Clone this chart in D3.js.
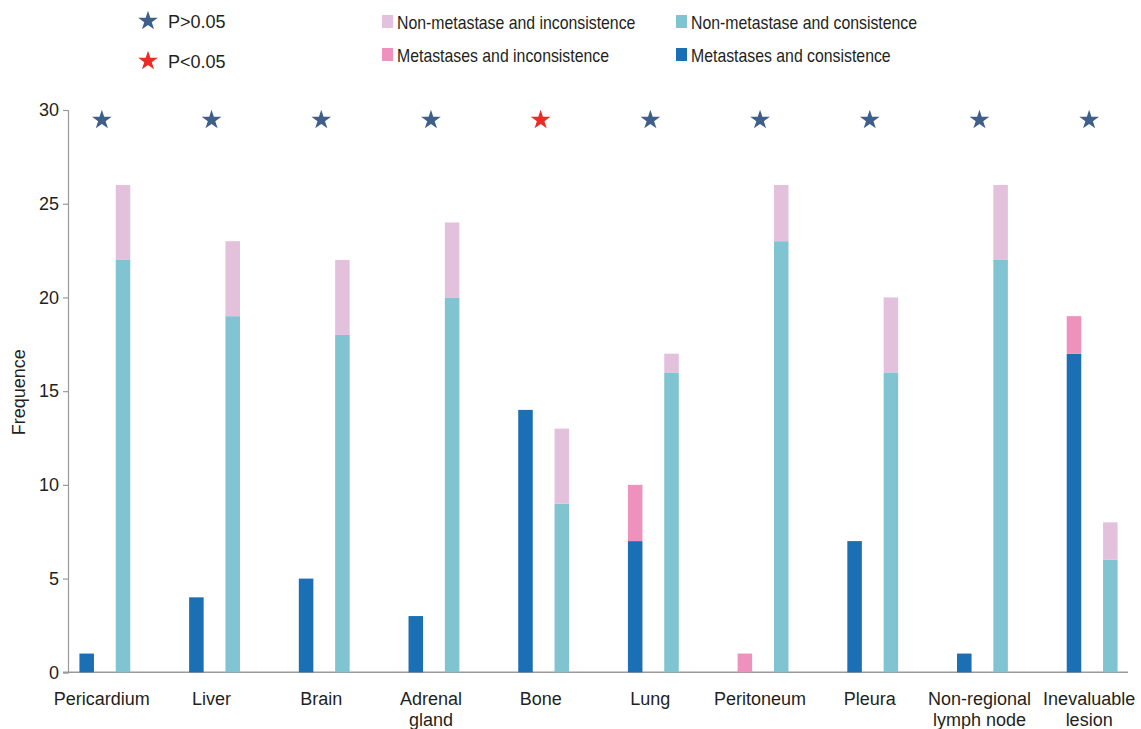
<!DOCTYPE html>
<html>
<head>
<meta charset="utf-8">
<script src="https://cdn.jsdelivr.net/npm/d3@7/dist/d3.min.js"></script>
<style>
  html, body { margin: 0; padding: 0; background: #fff; }
  svg { display: block; font-family: "Liberation Sans", Arial, Helvetica, sans-serif; }
</style>
</head>
<body>
<svg id="chart" width="1141" height="729"></svg>
<script>
// Metastatic sites
const sites = ["Pericardium", "Liver", "Brain", "Adrenal gland", "Bone",
               "Lung", "Peritoneum", "Pleura", "Non-regional lymph node", "Inevaluable lesion"];
// Axis label lines for each site
const siteLabels = [["Pericardium"], ["Liver"], ["Brain"], ["Adrenal", "gland"], ["Bone"],
                    ["Lung"], ["Peritoneum"], ["Pleura"], ["Non-regional", "lymph node"], ["Inevaluable", "lesion"]];

// Counts per site
const metConsistent     = [1, 4, 5, 3, 14, 7, 0, 7, 1, 17];
const metInconsistent   = [0, 0, 0, 0, 0, 3, 1, 0, 0, 2];
const nonConsistent     = [22, 19, 18, 20, 9, 16, 23, 16, 22, 6];
const nonInconsistent   = [4, 4, 4, 4, 4, 1, 3, 4, 4, 2];

// Significance per site
const significant = [false, false, false, false, true, false, false, false, false, false];

const yTicks = [0, 5, 10, 15, 20, 25, 30];

const colors = {
  metCons: "#1b6fb5",
  metIncons: "#ee91bc",
  nonCons: "#80c3d1",
  nonIncons: "#e3c1dc",
  starNs: "#3e5f8a",
  starSig: "#ee2a24",
  axis: "#9a9a9a",
  text: "#231f20"
};

const svg = d3.select("#chart");

const x = d3.scaleBand().domain(sites).range([50, 1147]);
const inner = d3.scaleBand().domain(["met", "non"]).range([0, x.step()])
  .paddingInner(0.6).paddingOuter(0.81);
const y = d3.scaleLinear().domain([0, 30]).range([672.3, 110]);

// Y axis
const yAxis = d3.axisLeft(y).tickValues(yTicks).tickSize(5).tickSizeOuter(5);
const gy = svg.append("g").attr("transform", "translate(68,0)").call(yAxis);
gy.select(".domain").attr("stroke", colors.axis).attr("stroke-width", 1.2);
gy.selectAll(".tick line").attr("stroke", colors.axis).attr("stroke-width", 1.2);
gy.selectAll(".tick text").attr("fill", colors.text).attr("font-size", 18)
  .attr("font-family", "Liberation Sans, Arial, sans-serif").attr("x", -9);

// X baseline
svg.append("line")
  .attr("x1", 63).attr("x2", 1128)
  .attr("y1", y(0)).attr("y2", y(0))
  .attr("stroke", colors.axis).attr("stroke-width", 1.5);

// Y title
svg.append("text")
  .attr("transform", `translate(25,${(y(0) + y(30)) / 2 + 1}) rotate(-90)`)
  .attr("text-anchor", "middle")
  .attr("font-size", 18)
  .attr("fill", colors.text)
  .text("Frequence");

// Stacked bars
const rows = sites.map((s, i) => ({
  site: s,
  met: [{ key: "metCons", v0: 0, v1: metConsistent[i] },
        { key: "metIncons", v0: metConsistent[i], v1: metConsistent[i] + metInconsistent[i] }],
  non: [{ key: "nonCons", v0: 0, v1: nonConsistent[i] },
        { key: "nonIncons", v0: nonConsistent[i], v1: nonConsistent[i] + nonInconsistent[i] }]
}));

const barG = svg.append("g");
rows.forEach(r => {
  ["met", "non"].forEach(group => {
    barG.selectAll(null)
      .data(r[group].filter(d => d.v1 > d.v0))
      .enter().append("rect")
      .attr("x", x(r.site) + inner(group))
      .attr("width", inner.bandwidth())
      .attr("y", d => y(d.v1))
      .attr("height", d => y(d.v0) - y(d.v1))
      .attr("fill", d => colors[d.key]);
  });
});

// Significance stars
const star = d3.symbol().type(d3.symbolStar).size(120);
svg.append("g").selectAll("path")
  .data(sites)
  .enter().append("path")
  .attr("d", star)
  .attr("transform", d => `translate(${x(d) + x.step() / 2 - 3},120)`)
  .attr("fill", (d, i) => significant[i] ? colors.starSig : colors.starNs);

// Category labels
const lab = svg.append("g").selectAll("text")
  .data(sites)
  .enter().append("text")
  .attr("text-anchor", "middle")
  .attr("font-size", 18)
  .attr("fill", colors.text)
  .attr("y", 705);
lab.each(function(d, i) {
  const t = d3.select(this);
  siteLabels[i].forEach((line, j) => {
    t.append("tspan")
      .attr("x", x(d) + x.step() / 2 - 3)
      .attr("dy", j === 0 ? 0 : 21)
      .text(line);
  });
});

// Legend: significance
const sigLegend = [
  { label: "P>0.05", color: colors.starNs, y: 21 },
  { label: "P<0.05", color: colors.starSig, y: 61 }
];
const sl = svg.append("g").selectAll("g").data(sigLegend).enter().append("g")
  .attr("transform", d => `translate(148,${d.y})`);
sl.append("path").attr("d", star).attr("fill", d => d.color);
sl.append("text").attr("x", 20).attr("y", 7).attr("font-size", 18)
  .attr("fill", colors.text).text(d => d.label);

// Legend: series
const seriesLegend = [
  { label: "Non-metastase and inconsistence", color: colors.nonIncons, x: 382, y: 22 },
  { label: "Metastases and inconsistence", color: colors.metIncons, x: 382, y: 55 },
  { label: "Non-metastase and consistence", color: colors.nonCons, x: 676, y: 22 },
  { label: "Metastases and consistence", color: colors.metCons, x: 676, y: 55 }
];
const lg = svg.append("g").selectAll("g").data(seriesLegend).enter().append("g")
  .attr("transform", d => `translate(${d.x},${d.y})`);
lg.append("rect").attr("x", 0).attr("y", -7).attr("width", 11).attr("height", 13)
  .attr("fill", d => d.color);
lg.append("text")
  .attr("transform", "translate(15,7) scale(0.88,1)")
  .attr("font-size", 18)
  .attr("fill", colors.text).text(d => d.label);
</script>
</body>
</html>
